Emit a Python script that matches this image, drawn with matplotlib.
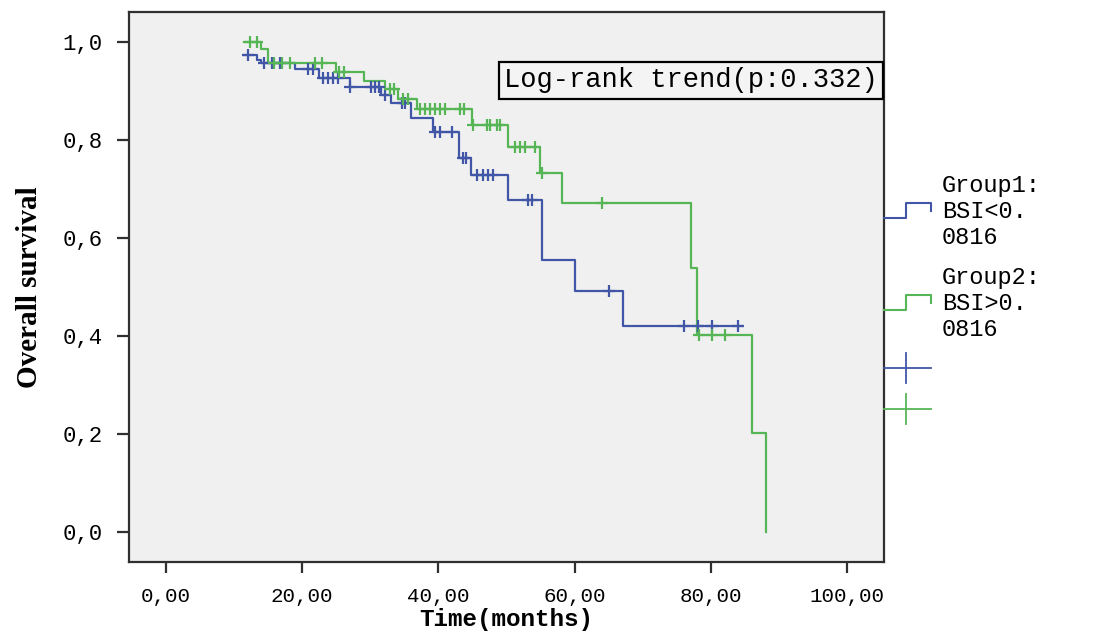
import numpy as np
import matplotlib
matplotlib.use("Agg")
import matplotlib.pyplot as plt
from matplotlib.lines import Line2D
from matplotlib.legend_handler import HandlerBase

# Group 1 (BSI < 0.0816): Kaplan-Meier step times and survival after each step
g1_times = [11.5, 13.3, 14.0, 18.9, 22.4, 27.0, 31.5, 33.0, 36.0, 39.2,
            43.0, 44.8, 50.2, 55.2, 60.1, 67.1]
g1_surv = [0.973, 0.964, 0.957, 0.944, 0.926, 0.908, 0.892, 0.875, 0.844, 0.817,
           0.764, 0.729, 0.678, 0.555, 0.492, 0.420]
g1_last_time = 84.5
g1_censored = [12.0, 14.4, 15.6, 16.8, 20.9, 21.6, 23.0, 23.8, 24.5, 25.3, 27.0,
               30.1, 30.7, 31.3, 32.1, 34.6, 35.1, 39.5, 40.2, 42.0, 43.6, 44.1,
               45.7, 46.5, 47.3, 48.0, 53.2, 53.7, 65.1, 76.1, 78.1, 80.2, 84.0]

# Group 2 (BSI > 0.0816)
g2_times = [11.5, 14.0, 15.0, 25.0, 29.1, 32.2, 34.0, 36.8, 44.9, 50.2,
            54.9, 58.1, 77.1, 78.0, 86.0, 88.1]
g2_surv = [1.0, 0.986, 0.957, 0.938, 0.920, 0.904, 0.884, 0.863, 0.831, 0.786,
           0.733, 0.671, 0.538, 0.402, 0.202, 0.0]
g2_censored = [12.3, 13.3, 15.8, 17.0, 18.2, 21.9, 22.9, 25.4, 26.2, 32.9, 33.4,
               34.8, 35.5, 37.3, 38.0, 38.8, 39.5, 40.2, 40.9, 43.2, 43.7, 45.0,
               47.1, 47.6, 48.6, 49.0, 51.2, 52.0, 52.7, 54.2, 55.2, 64.0,
               78.3, 80.2, 82.1]

group_labels = ["Group1:\nBSI<0.\n0816", "Group2:\nBSI>0.\n0816"]
x_ticks = [0, 20, 40, 60, 80, 100]
x_tick_labels = ["0,00", "20,00", "40,00", "60,00", "80,00", "100,00"]
y_ticks = [0.0, 0.2, 0.4, 0.6, 0.8, 1.0]
y_tick_labels = ["0,0", "0,2", "0,4", "0,6", "0,8", "1,0"]
test_text = "Log-rank trend(p:0.332)"

blue = "#4256a8"
green = "#56b656"
mono = "Liberation Mono"


def survival_at(times, surv, t):
    idx = np.searchsorted(times, t, side="right") - 1
    return np.asarray(surv)[idx]


fig = plt.figure(figsize=(11.12, 6.34), dpi=100)
ax = fig.add_axes([0.1160, 0.1136, 0.6790, 0.8675])
ax.set_facecolor("#f0f0f0")

curves = [
    (g1_times + [g1_last_time], g1_surv + [g1_surv[-1]], g1_censored, blue),
    (g2_times, g2_surv, g2_censored, green),
]
for times, surv, cens, col in curves:
    ax.step(times, surv, where="post", color=col, lw=1.6, zorder=3)
    cy = survival_at(times, surv, cens)
    ax.plot(cens, cy, ls="none", marker="+", ms=9, mew=1.6, color=col, zorder=4)

ax.set_xlim(-5.43, 105.4)
ax.set_ylim(-0.0612, 1.0612)
ax.set_xticks(x_ticks)
ax.set_xticklabels(x_tick_labels, fontfamily=mono, fontsize=15)
ax.set_yticks(y_ticks)
ax.set_yticklabels(y_tick_labels, fontfamily=mono, fontsize=16)
ax.tick_params(axis="x", length=8, width=1.6, pad=10, color="#303030")
ax.tick_params(axis="y", length=9, width=1.6, pad=10, color="#303030")
for sp in ax.spines.values():
    sp.set_linewidth(1.6)
    sp.set_color("#303030")

ax.set_xlabel("Time(months)", fontfamily=mono, fontweight="bold", fontsize=17.5)
ax.xaxis.label.set_verticalalignment("bottom")
ax.xaxis.set_label_coords(0.5, -0.1255)
ax.set_ylabel("Overall survival", fontfamily="Liberation Serif", fontweight="bold",
              fontsize=21, labelpad=14)

ax.text(0.992, 0.876, test_text, transform=ax.transAxes, ha="right", va="center",
        fontfamily=mono, fontsize=19.5, zorder=6,
        bbox=dict(boxstyle="square,pad=0.2", fc="#f4f4f4", ec="black", lw=1.6))


class StepHandler(HandlerBase):
    def create_artists(self, legend, orig_handle, xdescent, ydescent, width, height,
                       fontsize, trans):
        w, h = width, height
        xs = np.array([0, 0.47, 0.47, 1.0, 1.0]) * w - xdescent
        ys = np.array([0.15, 0.15, 1.1, 1.1, 0.6]) * h - ydescent
        ln = Line2D(xs, ys, color=orig_handle.get_color(), lw=1.5, transform=trans)
        return [ln]


class CensorHandler(HandlerBase):
    def create_artists(self, legend, orig_handle, xdescent, ydescent, width, height,
                       fontsize, trans):
        w, h = width, height
        col = orig_handle.get_color()
        hl = Line2D([-xdescent, w - xdescent], [0.5 * h - ydescent] * 2, color=col,
                    lw=1.3, transform=trans)
        vl = Line2D([0.47 * w - xdescent] * 2, [-0.45 * h - ydescent, 1.45 * h - ydescent],
                    color=col, lw=1.3, transform=trans)
        return [hl, vl]


class CensorKey(Line2D):
    pass


h1 = Line2D([], [], color=blue)
h2 = Line2D([], [], color=green)
c1 = CensorKey([], [], color=blue)
c2 = CensorKey([], [], color=green)
leg = ax.legend([h1, h2, c1, c2], group_labels + ["", ""],
                loc="upper left", bbox_to_anchor=(1.0, 0.705), frameon=False,
                prop={"family": mono, "size": 17}, handlelength=2.0,
                handleheight=0.65, handletextpad=0.45, labelspacing=0.75,
                borderaxespad=0.0, borderpad=0.0,
                handler_map={CensorKey: CensorHandler(), Line2D: StepHandler()})
for t in leg.get_texts():
    t.set_linespacing(1.15)

fig.savefig("out.png", dpi=100, facecolor="white")
